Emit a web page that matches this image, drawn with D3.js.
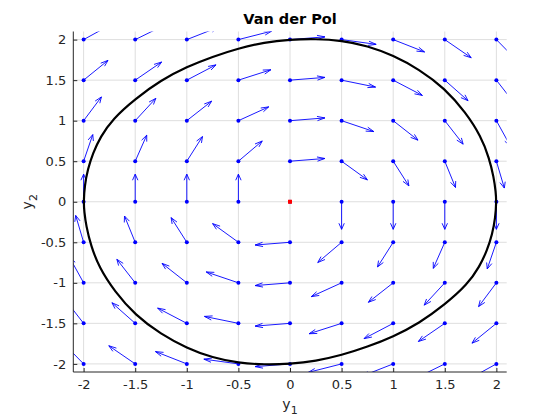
<!DOCTYPE html>
<html><head><meta charset="utf-8">
<script src="https://cdn.jsdelivr.net/npm/d3@7"></script>
<style>body{margin:0;background:#fff}svg{display:block}</style>
</head><body><svg id="c" width="560" height="420"></svg>
<script>
// ---- data ----
const y1Grid = [-2, -1.5, -1, -0.5, 0, 0.5, 1, 1.5, 2];
const y2Grid = [2, 1.5, 1, 0.5, 0, -0.5, -1, -1.5, -2];
// vector field components (rows follow y2Grid, columns follow y1Grid)
const U = [
  [2, 2, 2, 2, 2, 2, 2, 2, 2],
  [1.5, 1.5, 1.5, 1.5, 1.5, 1.5, 1.5, 1.5, 1.5],
  [1, 1, 1, 1, 1, 1, 1, 1, 1],
  [0.5, 0.5, 0.5, 0.5, 0.5, 0.5, 0.5, 0.5, 0.5],
  [0, 0, 0, 0, 0, 0, 0, 0, 0],
  [-0.5, -0.5, -0.5, -0.5, -0.5, -0.5, -0.5, -0.5, -0.5],
  [-1, -1, -1, -1, -1, -1, -1, -1, -1],
  [-1.5, -1.5, -1.5, -1.5, -1.5, -1.5, -1.5, -1.5, -1.5],
  [-2, -2, -2, -2, -2, -2, -2, -2, -2]
];
const V = [
  [1.4, 1.25, 1, 0.65, 0.2, -0.35, -1, -1.75, -2.6],
  [1.55, 1.31, 1, 0.61, 0.15, -0.39, -1, -1.69, -2.45],
  [1.7, 1.38, 1, 0.58, 0.1, -0.43, -1, -1.63, -2.3],
  [1.85, 1.44, 1, 0.54, 0.05, -0.46, -1, -1.56, -2.15],
  [2, 1.5, 1, 0.5, 0, -0.5, -1, -1.5, -2],
  [2.15, 1.56, 1, 0.46, -0.05, -0.54, -1, -1.44, -1.85],
  [2.3, 1.63, 1, 0.43, -0.1, -0.58, -1, -1.38, -1.7],
  [2.45, 1.69, 1, 0.39, -0.15, -0.61, -1, -1.31, -1.55],
  [2.6, 1.75, 1, 0.35, -0.2, -0.65, -1, -1.25, -1.4]
];
// limit cycle trajectory (clockwise from the leftmost point)
const cycleY1 = [-2.0, -1.99, -1.96, -1.91, -1.837, -1.72, -1.5, -1.25, -1.0, -0.75, -0.5, -0.25, 0.0, 0.25, 0.5, 0.75, 1.0, 1.25, 1.5, 1.7, 1.85, 1.93, 1.975, 1.994,
                 2.0, 1.99, 1.96, 1.91, 1.837, 1.72, 1.5, 1.25, 1.0, 0.75, 0.5, 0.25, 0.0, -0.25, -0.5, -0.75, -1.0, -1.25, -1.5, -1.7, -1.85, -1.93, -1.975, -1.994];
const cycleY2 = [0.0, 0.2, 0.4, 0.6, 0.8, 1.02, 1.27, 1.5, 1.665, 1.79, 1.893, 1.965, 2.0, 2.01, 1.988, 1.925, 1.805, 1.635, 1.398, 1.105, 0.81, 0.54, 0.3, 0.12,
                 0.0, -0.2, -0.4, -0.6, -0.8, -1.02, -1.27, -1.5, -1.665, -1.79, -1.893, -1.965, -2.0, -2.01, -1.988, -1.925, -1.805, -1.635, -1.398, -1.105, -0.81, -0.54, -0.3, -0.12];
const startY1 = [0];
const startY2 = [0];
const xTicks = [-2, -1.5, -1, -0.5, 0, 0.5, 1, 1.5, 2];
const yTicks = [-2, -1.5, -1, -0.5, 0, 0.5, 1, 1.5, 2];
const xLimits = [-2.1, 2.1];
const yLimits = [-2.1, 2.1];

// ---- layout ----
const L = 73.3, R = 506.7, T = 31.5, B = 372;
const svg = d3.select("#c");
const x = d3.scaleLinear().domain(xLimits).range([L, R]);
const y = d3.scaleLinear().domain(yLimits).range([B, T]);
const axisCol = "#262626";
const font = "'DejaVu Sans', sans-serif";

svg.append("defs").append("clipPath").attr("id", "clip")
  .append("rect").attr("x", L).attr("y", T).attr("width", R - L).attr("height", B - T);

// grid
const grid = svg.append("g").attr("stroke", "#dedede").attr("stroke-width", 1);
xTicks.forEach(t => grid.append("line").attr("x1", x(t)).attr("x2", x(t)).attr("y1", T).attr("y2", B));
yTicks.forEach(t => grid.append("line").attr("y1", y(t)).attr("y2", y(t)).attr("x1", L).attr("x2", R));

// quiver
const plot = svg.append("g").attr("clip-path", "url(#clip)");
const arrows = [];
y2Grid.forEach((yv, i) => y1Grid.forEach((xv, j) => arrows.push({x: xv, y: yv, u: U[i][j], v: V[i][j]})));
const len = 0.34, ha = 0.22, hb = 0.35;
const q = plot.append("g").attr("stroke", "#0000ff").attr("stroke-width", 0.9).attr("fill", "none");
arrows.forEach(a => {
  const m = Math.hypot(a.u, a.v);
  if (m === 0) return;
  const du = a.u / m * len, dv = a.v / m * len;
  const tx = a.x + du, ty = a.y + dv;
  q.append("line").attr("x1", x(a.x)).attr("y1", y(a.y)).attr("x2", x(tx)).attr("y2", y(ty));
  const h1x = tx - ha * (du + hb * dv), h1y = ty - ha * (dv - hb * du);
  const h2x = tx - ha * (du - hb * dv), h2y = ty - ha * (dv + hb * du);
  q.append("path").attr("d", `M${x(h1x)},${y(h1y)}L${x(tx)},${y(ty)}L${x(h2x)},${y(h2y)}`);
});
plot.append("g").attr("fill", "#0000ff").selectAll("circle").data(arrows).join("circle")
  .attr("cx", d => x(d.x)).attr("cy", d => y(d.y)).attr("r", 2);

// limit cycle
const pts = cycleY1.map((v, i) => [v, cycleY2[i]]);
plot.append("path").datum(pts)
  .attr("d", d3.line().x(d => x(d[0])).y(d => y(d[1])).curve(d3.curveBasisClosed))
  .attr("fill", "none").attr("stroke", "#000").attr("stroke-width", 2.2);

// start point
svg.append("g").selectAll("rect").data(startY1).join("rect")
  .attr("x", (d, i) => x(d) - 2).attr("y", (d, i) => y(startY2[i]) - 2)
  .attr("width", 4).attr("height", 4).attr("fill", "#ff0000");

// axes
const xa = svg.append("g").attr("transform", `translate(0,${B})`)
  .call(d3.axisBottom(x).tickValues(xTicks).tickSize(-4).tickPadding(8).tickFormat(d => String(d)));
const ya = svg.append("g").attr("transform", `translate(${L},0)`)
  .call(d3.axisLeft(y).tickValues(yTicks).tickSize(-4).tickPadding(7).tickFormat(d => String(d)));
[xa, ya].forEach(g => {
  g.select(".domain").attr("stroke", axisCol).attr("stroke-width", 1);
  g.selectAll(".tick line").attr("stroke", axisCol);
  g.selectAll("text").attr("fill", axisCol).style("font-family", font).style("font-size", "13px");
});
xa.select(".domain").attr("d", `M${L},0H${R}`);
ya.select(".domain").attr("d", `M0,${B}V${T}`);

// title
svg.append("text").attr("x", (L + R) / 2).attr("y", 24).attr("text-anchor", "middle")
  .style("font-family", font).style("font-size", "14.5px").style("font-weight", "bold")
  .attr("fill", "#000").text("Van der Pol");

// x label
const xl = svg.append("text").attr("x", (L + R) / 2).attr("y", 409).attr("text-anchor", "middle")
  .style("font-family", font).style("font-size", "14px").attr("fill", axisCol);
xl.append("tspan").text("y");
xl.append("tspan").attr("dy", 5).style("font-size", "11px").text("1");

// y label
const yl = svg.append("text").attr("transform", `translate(32,${(T + B) / 2}) rotate(-90)`).attr("text-anchor", "middle")
  .style("font-family", font).style("font-size", "14px").attr("fill", axisCol);
yl.append("tspan").text("y");
yl.append("tspan").attr("dy", 5).style("font-size", "11px").text("2");
</script></body></html>
